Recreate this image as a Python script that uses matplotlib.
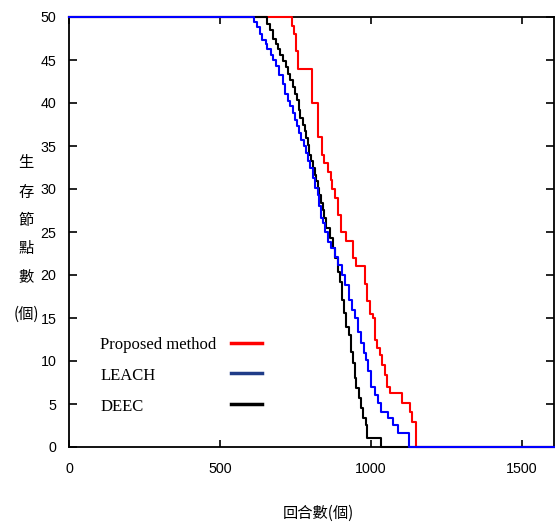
import matplotlib
matplotlib.use("Agg")
import matplotlib.pyplot as plt
from matplotlib import font_manager as fm
from matplotlib.lines import Line2D

# ---------------- data ----------------
proposed_rounds = [0, 738, 745, 751, 758, 803, 825, 838, 845, 858, 866, 872, 880, 891,
                   900, 916, 942, 952, 979, 988, 998, 1005, 1012, 1020, 1029, 1036,
                   1045, 1053, 1062, 1104, 1128, 1137, 1148]
proposed_alive = [50, 49, 48, 46, 44, 40, 36, 34, 33, 32, 31, 30, 29, 27,
                  25, 24, 22, 21, 19, 17, 15.5, 15, 12.4, 11.5, 10.7, 9.5,
                  8.4, 7.0, 6.3, 5.1, 4.1, 2.9, 0]

leach_rounds = [0, 613, 622, 632, 639, 651, 657, 668, 676, 687, 696, 707, 715, 724,
                733, 741, 748, 755, 763, 768, 777, 785, 793, 799, 807, 813, 824, 829,
                835, 841, 847, 858, 869, 880, 891, 904, 913, 927, 938, 948, 957, 966,
                976, 982, 990, 1001, 1012, 1023, 1034, 1056, 1073, 1089, 1126]
leach_alive = [50, 49.4, 48.8, 48.0, 47.3, 46.9, 46.3, 45.6, 45.0, 44.3, 43.3, 42.2,
               41.0, 40.2, 39.7, 38.8, 38.0, 37.3, 36.5, 35.7, 35.0, 34.2, 33.3, 32.4,
               31.3, 30.1, 29.3, 28.0, 26.6, 26.0, 25.0, 23.8, 23.1, 22.1, 21.2, 20.0,
               18.8, 17.1, 15.9, 15.0, 13.4, 12.1, 10.9, 10.1, 8.8, 7.0, 6.0, 5.1,
               4.1, 3.4, 2.6, 1.6, 0]

deec_rounds = [0, 657, 665, 676, 684, 692, 700, 709, 717, 725, 733, 742, 748, 755,
               760, 766, 774, 780, 785, 791, 796, 801, 807, 813, 818, 824, 829, 835,
               840, 844, 852, 863, 874, 882, 891, 896, 904, 911, 918, 927, 933, 940,
               946, 952, 959, 966, 974, 982, 987, 1034]
deec_alive = [50, 49.2, 48.5, 47.4, 46.9, 46.3, 45.6, 44.9, 44.2, 43.4, 42.7, 41.9,
              41.0, 40.3, 39.2, 38.3, 37.4, 36.7, 35.9, 35.1, 34.0, 33.3, 32.4, 31.6,
              30.9, 30.1, 29.3, 28.4, 27.6, 26.6, 25.5, 24.3, 23.1, 22.0, 20.3, 19.2,
              17.1, 15.6, 14.0, 13.0, 11.0, 9.8, 8.0, 6.9, 5.7, 4.5, 3.4, 2.6, 1.0, 0]

series_labels = ["Proposed method", "LEACH", "DEEC"]
x_ticks = [0, 500, 1000, 1500]
y_ticks = list(range(0, 51, 5))
x_label = "回合數(個)"
y_label_chars = ["生", "存", "節", "點", "數", "(個)"]
x_max = 1606

# ---------------- fonts ----------------
names = {f.name for f in fm.fontManager.ttflist}
tick_family = "Liberation Sans Narrow" if "Liberation Sans Narrow" in names else "Liberation Sans"
tick_size = 11.5 if tick_family == "Liberation Sans Narrow" else 10.3
cjk = ["Noto Sans CJK TC", "DejaVu Sans"]

fig = plt.figure(figsize=(5.55, 5.22), dpi=100)
ax = fig.add_axes([69 / 555, 75 / 522, 485 / 555, 430 / 522])

lw = 1.5
ax.step(proposed_rounds + [x_max], proposed_alive + [proposed_alive[-1]], where="post",
        color="#ff0000", lw=lw, zorder=3, clip_on=False)
ax.step(deec_rounds + [x_max], deec_alive + [deec_alive[-1]], where="post",
        color="#000000", lw=lw, zorder=4, clip_on=False)
ax.step(leach_rounds + [x_max], leach_alive + [leach_alive[-1]], where="post",
        color="#0000ff", lw=lw, zorder=5, clip_on=False)

ax.set_xlim(0, x_max)
ax.set_ylim(0, 50)
ax.set_xticks(x_ticks)
ax.set_yticks(y_ticks)
ax.tick_params(axis="x", direction="in", top=True, length=5, width=1.2, pad=11,
               labelsize=tick_size)
ax.tick_params(axis="y", direction="in", right=True, length=6, width=1.2, pad=9,
               labelsize=tick_size)
for lab in ax.get_xticklabels() + ax.get_yticklabels():
    lab.set_family(tick_family)
for s in ax.spines.values():
    s.set_linewidth(1.3)
    s.set_color("black")

# legend (text left, short line to the right)
leg_colors = ["#ff0000", "#1f3c88", "#000000"]
leg_y = [0.243, 0.172, 0.100]
for lab, c, yy in zip(series_labels, leg_colors, leg_y):
    ax.text(0.064, yy - 0.006, lab, transform=ax.transAxes, ha="left", va="center",
            family="Liberation Serif", fontsize=12)
    ax.add_line(Line2D([0.333, 0.398], [yy, yy], transform=ax.transAxes,
                       color=c, lw=2.5, zorder=6))

# axis titles
fig.text(318 / 555, 1 - 513 / 522, x_label, ha="center", va="center",
         family=cjk, fontsize=11)
for ch, py in zip(y_label_chars, [163, 192, 220, 248, 277, 314]):
    fig.text(26 / 555, 1 - py / 522, ch, ha="center", va="center",
             family=cjk, fontsize=11)

fig.savefig("out.png", dpi=100)
